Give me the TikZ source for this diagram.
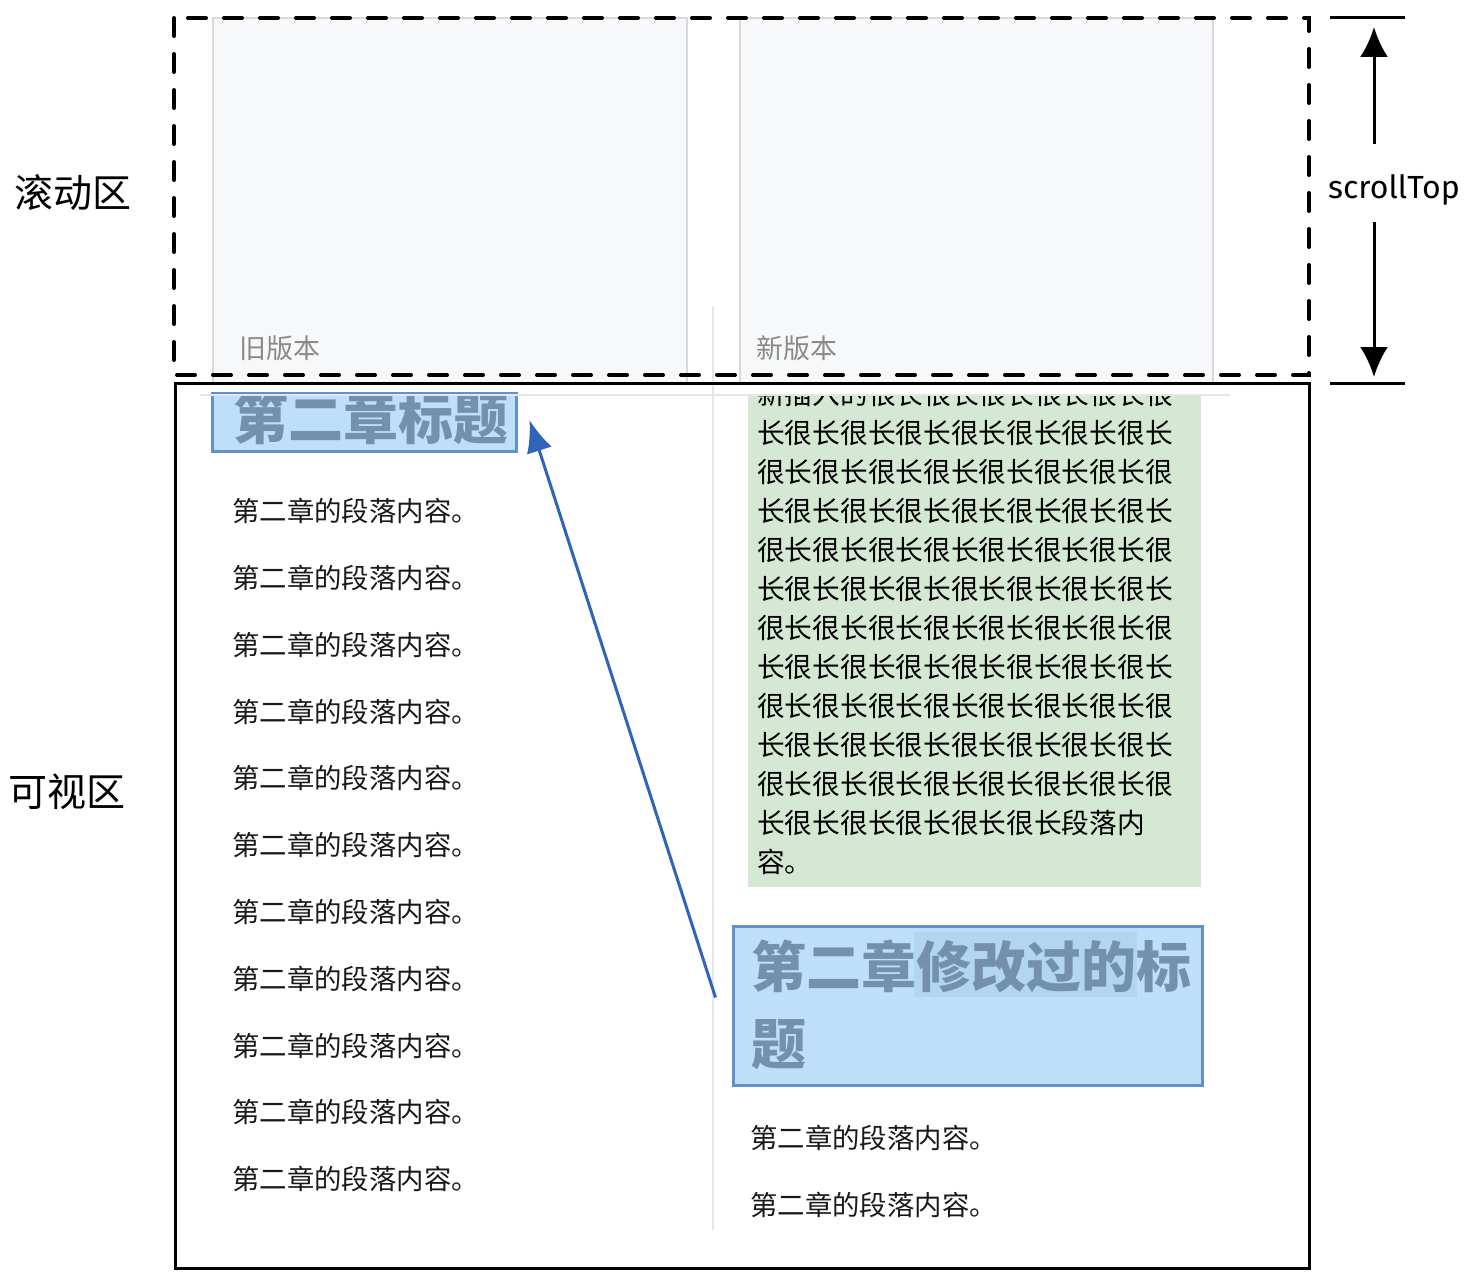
\documentclass[tikz,border=0pt]{standalone}
\usepackage{fontspec}
\setmainfont{Noto Sans CJK SC}
\newfontfamily\latinfont{Fira Sans}
\usetikzlibrary{arrows.meta}
\tikzset{>={Latex[width=28pt,length=30pt]}}
\definecolor{paneback}{HTML}{F7F8FA}
\definecolor{paneline}{HTML}{D8D9DC}
\definecolor{thinrule}{HTML}{E6E6E6}
\definecolor{titleback}{HTML}{BFDFF9}
\definecolor{titleline}{HTML}{6391CD}
\definecolor{titletext}{HTML}{7490AD}
\definecolor{marked}{HTML}{B2D6EF}
\definecolor{inserted}{HTML}{D5E8D4}
\definecolor{darkblue}{HTML}{3064B8}
\definecolor{labelgray}{HTML}{8A8A8A}
\newcommand{\GRAY}[1]{\textcolor{labelgray}{#1}}

\begin{document}
\begin{tikzpicture}[x=1pt,y=-1pt,
  para/.style={anchor=base west, inner sep=0pt, font=\fontsize{27.4}{27}\selectfont, text=black!90},
  zone/.style={anchor=center, inner sep=0pt, font=\fontsize{39}{39}\selectfont},
  titlebox/.style={draw=titleline, fill=titleback, line width=3pt, inner sep=0pt},
  headline/.style={anchor=base west, inner sep=0pt, align=left, text=titletext,
    font=\bfseries\fontsize{55}{77}\selectfont},
  pane/.style={draw=paneline, fill=paneback, line width=2.5pt}]
\useasboundingbox (0,0) rectangle (1468,1284);

% highlight boxes of the chapter title
\node[titlebox, minimum width=304pt, minimum height=58pt] (oldbox) at (364,422) {};
\node[titlebox, minimum width=469pt, minimum height=159pt] (newbox) at (967.5,1005.5) {};
\fill[marked] (914,932) rectangle (1137,997);

% page content, cut at the top of the viewport
% (the base of a multi-line node is its last line)
\begin{scope}
\clip (200,396) rectangle (1230,1268);
\fill[inserted] (748,380) rectangle (1201,887);
\node[anchor=base west, inner sep=0pt, align=left, font=\fontsize{27.7}{39}\selectfont] (longpara) at (757,872)
{新插入的很长很长很长很长很长很\\
长很长很长很长很长很长很长很长\\
很长很长很长很长很长很长很长很\\
长很长很长很长很长很长很长很长\\
很长很长很长很长很长很长很长很\\
长很长很长很长很长很长很长很长\\
很长很长很长很长很长很长很长很\\
长很长很长很长很长很长很长很长\\
很长很长很长很长很长很长很长很\\
长很长很长很长很长很长很长很长\\
很长很长很长很长很长很长很长很\\
长很长很长很长很长很长段落内\\
容。};
\node[headline] (oldtitle) at (233,439) {第二章标题};
\node[headline] (newtitle) at (751,1064) {第二章修改过的标\\题};

\node[para] (p1) at (232,521) {第二章的段落内容。};
\node[para] (p2) at (232,588) {第二章的段落内容。};
\node[para] (p3) at (232,655) {第二章的段落内容。};
\node[para] (p4) at (232,722) {第二章的段落内容。};
\node[para] (p5) at (232,788) {第二章的段落内容。};
\node[para] (p6) at (232,855) {第二章的段落内容。};
\node[para] (p7) at (232,922) {第二章的段落内容。};
\node[para] (p8) at (232,989) {第二章的段落内容。};
\node[para] (p9) at (232,1056) {第二章的段落内容。};
\node[para] (p10) at (232,1122) {第二章的段落内容。};
\node[para] (p11) at (232,1189) {第二章的段落内容。};

\node[para] (q1) at (750,1148) {第二章的段落内容。};
\node[para] (q2) at (750,1215) {第二章的段落内容。};
\end{scope}

% thin page rules
\draw[thinrule, line width=1.5pt] (200,395) -- (1230,395);
\draw[thinrule, line width=1.5pt] (713,307) -- (713,1230);

% version panes
\draw[pane] (213,18) rectangle (687,383);
\draw[pane] (740,18) rectangle (1213,383);
\node[anchor=west, inner sep=0pt, font=\fontsize{27}{27}\selectfont] (oldlabel) at (239,348) {\GRAY{旧版本}};
\node[anchor=west, inner sep=0pt, font=\fontsize{27}{27}\selectfont] (newlabel) at (756,348) {\GRAY{新版本}};

% scroll area and visible area
\draw[line width=4pt, dash pattern=on 18pt off 18pt, line cap=round] (174,18) rectangle (1309,375);
\draw[line width=3pt] (175,383) rectangle (1309,1268);
\node[zone] (scrollzone) at (73,193) {滚动区};
\node[zone] (viewzone) at (67,792) {可视区};

% moved title
\draw[darkblue, line width=3pt, -{Latex[width=26pt,length=32pt]}]
  ([xshift=-16pt,yshift=8pt]newbox.west) -- ([xshift=12pt,yshift=2pt]oldbox.east);

% scrollTop
\draw[line width=3pt] (1330,18) -- (1405,18);
\draw[line width=3pt] (1330,383) -- (1405,383);
\node[inner sep=0pt, font=\latinfont\fontsize{32}{32}\selectfont] (scrolltop) at (1394,190) {scrollTop};
\coordinate (toptip) at (1374,27);
\coordinate (bottip) at (1374,377);
\draw[line width=3pt, ->] (scrolltop.north -| toptip) ++(0,-30) -- (toptip);
\draw[line width=3pt, ->] (scrolltop.south -| bottip) ++(0,16) -- (bottip);
\end{tikzpicture}
\end{document}
